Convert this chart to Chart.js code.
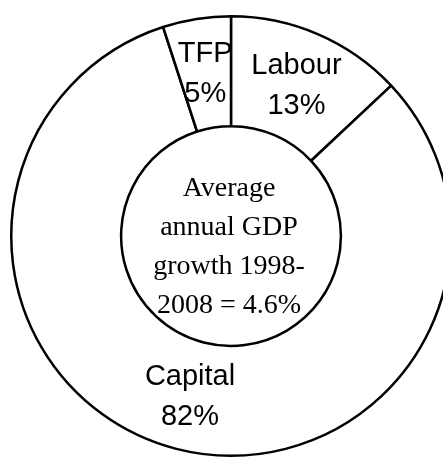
<!DOCTYPE html>
<html>
<head>
<meta charset="utf-8">
<script src="https://cdn.jsdelivr.net/npm/chart.js@4.4.0/dist/chart.umd.min.js"></script>
<style>
  body { margin: 0; background: #fff; overflow: hidden; }
  #wrap { position: absolute; left: 0; top: 0; width: 460px; height: 459px; }
</style>
</head>
<body>
<div id="wrap"><canvas id="grafico" width="460" height="459"></canvas></div>
<script>
// Dados
const categorias = ["Labour", "Capital", "TFP"];
const valores = [13, 82, 5];
const textoCentro = ["Average", "annual GDP", "growth 1998-", "2008 = 4.6%"];

// Rótulos dentro de cada fatia (nome + percentual)
const rotulosFatias = {
  id: "rotulosFatias",
  afterDatasetsDraw(chart) {
    const ctx = chart.ctx;
    const meta = chart.getDatasetMeta(0);
    ctx.save();
    ctx.fillStyle = "#000";
    ctx.font = "29px 'Liberation Sans', Arial, sans-serif";
    ctx.textAlign = "center";
    ctx.textBaseline = "alphabetic";
    meta.data.forEach((arco, i) => {
      const pos = arco.tooltipPosition();
      ctx.fillText(categorias[i], pos.x, pos.y - 11);
      ctx.fillText(valores[i] + "%", pos.x, pos.y + 29);
    });
    ctx.restore();
  },
};

// Texto no buraco do meio
const textoMeio = {
  id: "textoMeio",
  afterDatasetsDraw(chart) {
    const ctx = chart.ctx;
    const arco = chart.getDatasetMeta(0).data[0];
    ctx.save();
    ctx.fillStyle = "#000";
    ctx.font = "28px 'Liberation Serif', 'Times New Roman', serif";
    ctx.textAlign = "center";
    ctx.textBaseline = "alphabetic";
    textoCentro.forEach((linha, i) => {
      ctx.fillText(linha, arco.x - 2, arco.y - 40 + i * 39);
    });
    ctx.restore();
  },
};

const ctx = document.querySelector("#grafico").getContext("2d");
const chart = new Chart(ctx, {
  type: "doughnut",
  data: {
    labels: categorias,
    datasets: [
      {
        data: valores,
        backgroundColor: "#fff",
        borderColor: "#000",
        borderWidth: 2.5,
        hoverBorderWidth: 2.5,
        hoverBackgroundColor: "#fff",
      },
    ],
  },
  options: {
    responsive: false,
    animation: false,
    events: [],
    cutout: "50%",
    layout: { padding: { left: 10, right: 8, top: 15, bottom: 2 } },
    plugins: {
      legend: { display: false },
      tooltip: { enabled: false },
    },
  },
  plugins: [rotulosFatias, textoMeio],
});
</script>
</body>
</html>
